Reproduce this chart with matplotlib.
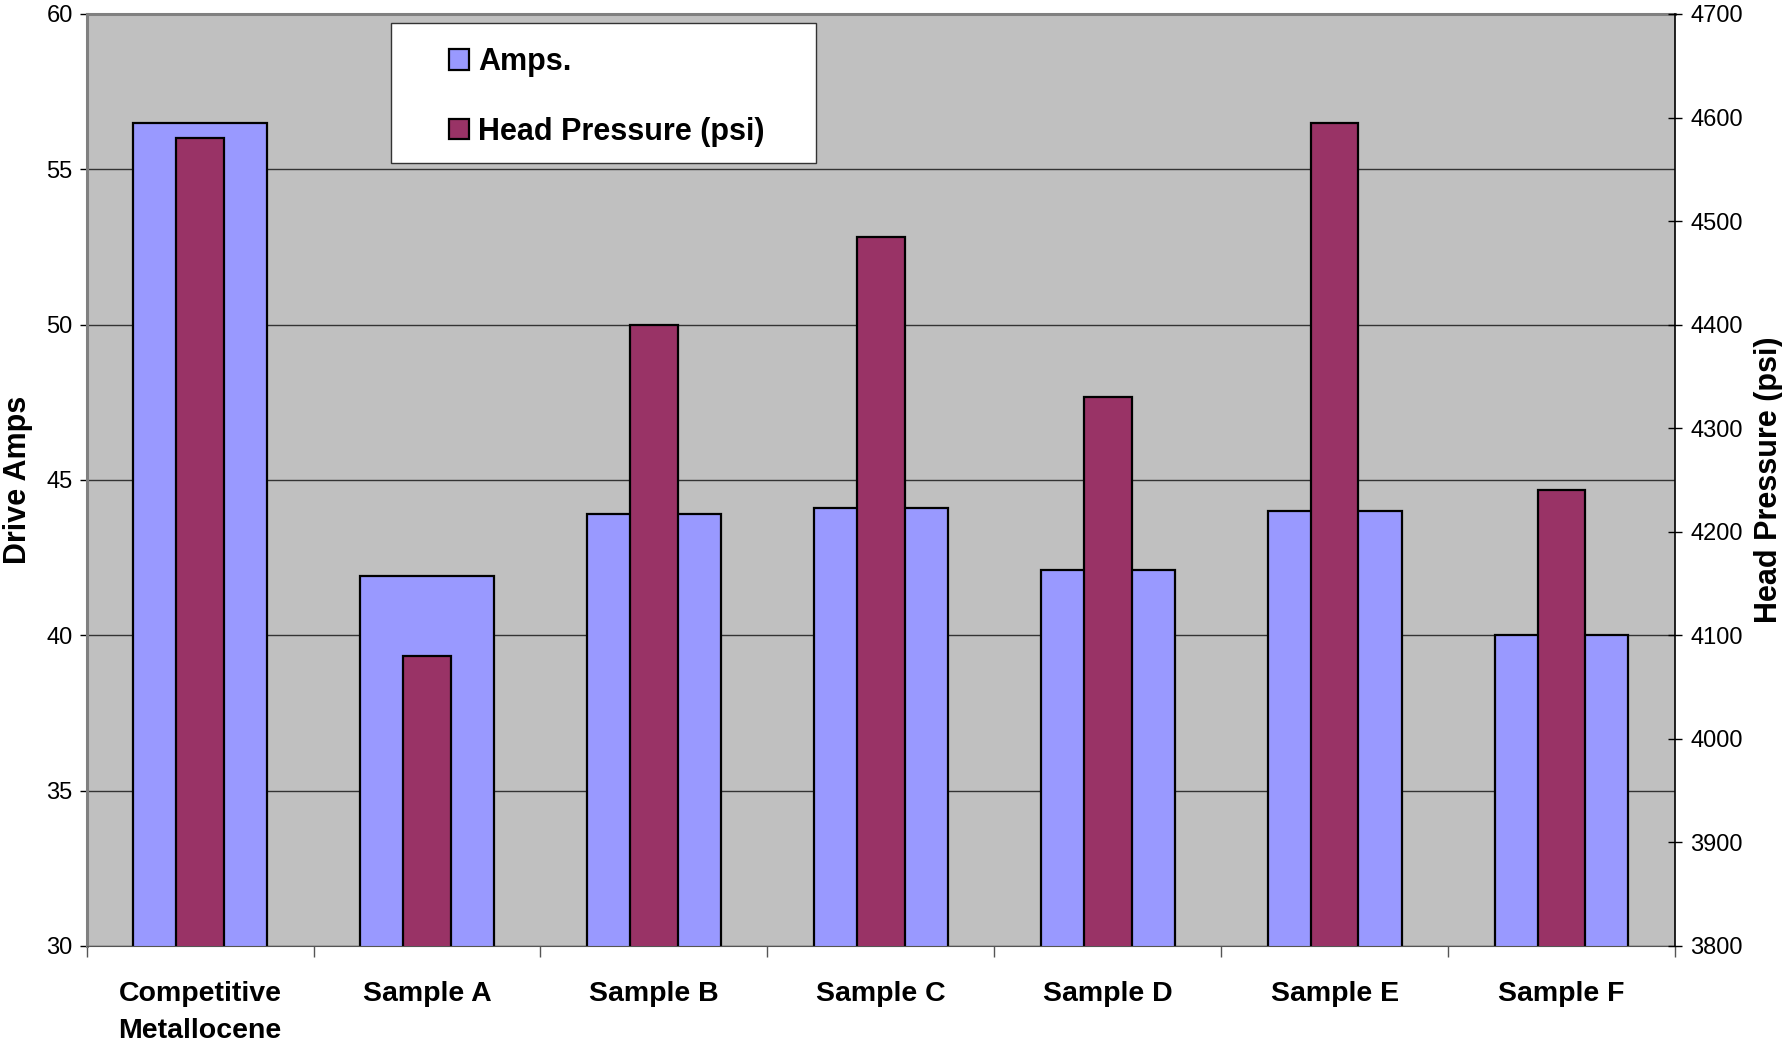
import matplotlib
matplotlib.use("Agg")
import matplotlib.pyplot as plt
from matplotlib.patches import Patch, Rectangle
import numpy as np

categories = ['Competitive\nMetallocene', 'Sample A', 'Sample B', 'Sample C',
              'Sample D', 'Sample E', 'Sample F']
amps = [56.5, 41.9, 43.9, 44.1, 42.1, 44.0, 40.0]
head_pressure = [4580, 4080, 4400, 4485, 4330, 4595, 4240]

amps_ticks = [30, 35, 40, 45, 50, 55, 60]
psi_ticks = [3800, 3900, 4000, 4100, 4200, 4300, 4400, 4500, 4600, 4700]

AMPS_COLOR = '#9999FF'
PSI_COLOR = '#993366'
W, H = 1782, 1046

plt.rcParams['font.family'] = ['Liberation Sans', 'DejaVu Sans']

fig = plt.figure(figsize=(W / 100, H / 100), dpi=100)
ax = fig.add_axes([86.7 / W, 1 - 946 / H, 1588.3 / W, 932 / H])
ax2 = ax.twinx()

x = np.arange(len(categories))
ax.bar(x, amps, width=0.59, color=AMPS_COLOR, edgecolor='black', linewidth=1.6, zorder=2)
ax2.bar(x, head_pressure, width=0.21, color=PSI_COLOR, edgecolor='black', linewidth=1.6, zorder=2)

ax.set_facecolor('#C0C0C0')
ax.set_axisbelow(True)
ax.set_ylim(30, 60)
ax2.set_ylim(3800, 4700)
ax.set_xlim(-0.5, len(categories) - 0.5)
ax.set_yticks(amps_ticks)
ax2.set_yticks(psi_ticks)
ax.yaxis.grid(True, color='#333333', linewidth=1.0)

# category boundaries get the ticks, labels sit in the middle
ax.set_xticks(np.arange(len(categories) + 1) - 0.5)
ax.set_xticklabels([])
ax.set_xticks(x, minor=True)
ax.set_xticklabels(categories, minor=True, fontsize=20.5, fontweight='bold',
                   linespacing=1.55, va='top')
ax.tick_params(axis='x', which='major', direction='out', length=8, width=1, color='#555555')
ax.tick_params(axis='x', which='minor', length=0, pad=25)

ax.tick_params(axis='y', direction='out', length=5, width=1, labelsize=17, pad=5)
ax2.tick_params(axis='y', direction='inout', length=10, width=1, labelsize=17, pad=6)

for side in ['top', 'left']:
    ax.spines[side].set_color('#808080')
    ax.spines[side].set_linewidth(2.2)
ax.spines['bottom'].set_color('#555555')
ax.spines['right'].set_visible(False)
ax2.spines['right'].set_color('black')
ax2.spines['right'].set_linewidth(1.2)
for side in ['top', 'left', 'bottom']:
    ax2.spines[side].set_visible(False)

ax.set_ylabel('Drive Amps', fontsize=22, fontweight='bold', va='center')
ax.yaxis.set_label_coords(-0.0433, 0.5)
ax2.set_ylabel('Head Pressure (psi)', fontsize=22, fontweight='bold', rotation=90, va='center')
ax2.yaxis.set_label_coords(1.0592, 0.5)

# white legend box, drawn on the figure above the axes
box = Rectangle((391 / W, 1 - 163 / H), 425 / W, 140 / H, transform=fig.transFigure,
                facecolor='white', edgecolor='#333333', linewidth=1.0, zorder=3)
fig.add_artist(box)
handles = [Patch(facecolor=AMPS_COLOR, edgecolor='black', linewidth=1.6),
           Patch(facecolor=PSI_COLOR, edgecolor='black', linewidth=1.6)]
fig.legend(handles, ['Amps.', 'Head Pressure (psi)'], loc='upper left',
           bbox_to_anchor=(434 / W, 1 - 32 / H), frameon=False, borderpad=0,
           handlelength=0.65, handleheight=0.65, handletextpad=0.3, labelspacing=1.29,
           prop={'weight': 'bold', 'size': 22})

fig.savefig('out.png', dpi=100)
